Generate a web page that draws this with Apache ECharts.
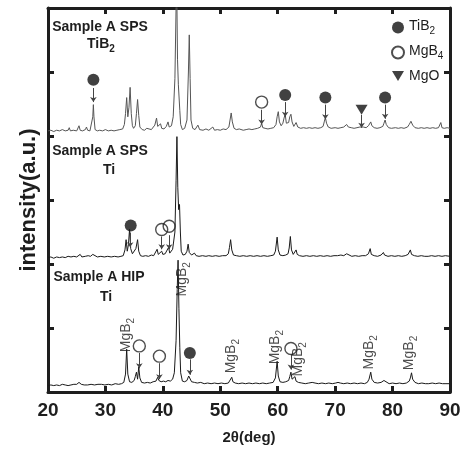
<!DOCTYPE html>
<html><head><meta charset="utf-8">
<script src="https://cdn.jsdelivr.net/npm/echarts@6/dist/echarts.min.js"></script>
<style>html,body{margin:0;padding:0;background:#fff}#c{width:464px;height:450px}</style>
</head><body><div id="c"></div>
<script>
var xTicks = [20, 30, 40, 50, 60, 70, 80, 90];

var topTiB2 = [[20,4.08],[20.5,4.09],[21,4.07],[21.5,4.09],[22,4.08],[22.5,4.10],[23,4.08],[23.5,4.09],[23.7,4.13],[23.9,4.08],[24.4,4.09],[25,4.08],[25.2,4.10],[25.4,4.16],[25.6,4.09],[26,4.08],[26.5,4.10],[26.7,4.14],[26.9,4.09],[27.3,4.08],[27.6,4.10],[27.8,4.30],[27.9,4.49],[28.0,4.30],[28.2,4.10],[28.6,4.08],[29,4.09],[29.5,4.08],[30,4.10],[30.5,4.08],[31,4.09],[31.5,4.08],[32,4.09],[32.5,4.10],[33,4.11],[33.3,4.18],[33.5,4.35],[33.7,4.60],[33.9,4.30],[34.1,4.45],[34.3,4.76],[34.5,4.35],[34.7,4.16],[34.9,4.12],[35.2,4.16],[35.4,4.35],[35.6,4.57],[35.8,4.32],[36.0,4.14],[36.4,4.10],[36.8,4.09],[37.2,4.12],[37.5,4.09],[38,4.10],[38.3,4.12],[38.6,4.17],[38.9,4.28],[39.1,4.15],[39.3,4.12],[39.6,4.19],[39.8,4.12],[40.2,4.11],[40.6,4.15],[40.9,4.22],[41.1,4.14],[41.5,4.16],[41.8,4.30],[42.1,4.9],[42.3,6.0],[42.4,6.5],[42.55,5.2],[42.7,4.8],[42.8,4.83],[42.95,4.4],[43.1,4.18],[43.4,4.10],[43.8,4.12],[44.2,4.25],[44.45,5.0],[44.6,5.58],[44.75,4.9],[44.9,4.25],[45.2,4.12],[45.6,4.10],[46.1,4.17],[46.4,4.10],[47,4.09],[47.5,4.11],[48,4.09],[48.7,4.14],[49,4.09],[49.5,4.10],[50,4.09],[50.5,4.11],[51,4.10],[51.5,4.14],[51.7,4.25],[51.9,4.36],[52.1,4.22],[52.4,4.12],[52.8,4.10],[53.3,4.11],[54,4.09],[54.5,4.10],[55,4.11],[55.5,4.10],[56,4.11],[56.5,4.12],[57,4.14],[57.2,4.20],[57.4,4.13],[57.8,4.12],[58.3,4.11],[58.8,4.12],[59.3,4.13],[59.7,4.18],[59.9,4.30],[60.1,4.38],[60.3,4.22],[60.6,4.16],[60.9,4.20],[61.1,4.28],[61.3,4.34],[61.5,4.20],[61.9,4.21],[62.1,4.30],[62.3,4.34],[62.5,4.22],[62.8,4.15],[63.2,4.21],[63.5,4.14],[64,4.12],[64.5,4.13],[65,4.12],[65.5,4.13],[66,4.12],[66.5,4.13],[67,4.12],[67.5,4.13],[67.9,4.15],[68.1,4.22],[68.3,4.29],[68.5,4.20],[68.8,4.14],[69.3,4.12],[70,4.13],[70.5,4.12],[71,4.13],[71.5,4.14],[72,4.18],[72.3,4.14],[72.8,4.13],[73.3,4.12],[73.8,4.13],[74.3,4.14],[74.6,4.17],[74.9,4.14],[75.4,4.13],[75.8,4.16],[76.0,4.19],[76.2,4.22],[76.4,4.16],[76.8,4.13],[77.3,4.12],[77.8,4.13],[78.3,4.15],[78.5,4.20],[78.7,4.25],[78.9,4.18],[79.3,4.13],[79.8,4.12],[80.5,4.13],[81,4.12],[81.5,4.13],[82,4.12],[82.6,4.14],[82.9,4.18],[83.2,4.23],[83.5,4.17],[83.9,4.13],[84.5,4.12],[85,4.13],[85.5,4.12],[86,4.13],[86.5,4.12],[87,4.13],[87.5,4.12],[88,4.13],[88.3,4.16],[88.4,4.21],[88.6,4.13],[89,4.12],[89.5,4.13],[90,4.12]];

var midTi = [[20,2.10],[20.5,2.11],[21,2.09],[21.5,2.11],[22,2.10],[22.5,2.11],[23,2.10],[23.5,2.12],[24,2.11],[24.5,2.12],[25,2.11],[25.6,2.15],[25.9,2.11],[26.5,2.12],[27,2.13],[27.4,2.12],[27.8,2.15],[28.1,2.12],[28.6,2.11],[29.2,2.12],[29.8,2.11],[30.4,2.12],[31,2.11],[31.6,2.12],[32.2,2.11],[32.7,2.12],[33.1,2.13],[33.4,2.22],[33.6,2.38],[33.8,2.20],[34.0,2.30],[34.2,2.54],[34.4,2.24],[34.7,2.16],[35.0,2.15],[35.3,2.24],[35.6,2.38],[35.8,2.20],[36.1,2.13],[36.5,2.12],[37,2.13],[37.5,2.12],[38,2.14],[38.4,2.13],[38.7,2.16],[39.0,2.23],[39.2,2.15],[39.5,2.16],[39.8,2.20],[40.0,2.15],[40.4,2.16],[40.7,2.19],[41.0,2.26],[41.2,2.17],[41.5,2.19],[41.7,2.23],[41.9,2.22],[42.1,2.5],[42.3,3.3],[42.45,3.99],[42.6,3.2],[42.75,2.85],[42.9,2.93],[43.05,2.5],[43.2,2.2],[43.5,2.14],[43.9,2.15],[44.2,2.20],[44.4,2.31],[44.6,2.18],[45.0,2.14],[45.5,2.17],[45.8,2.13],[46.3,2.12],[46.9,2.13],[47.5,2.12],[48,2.13],[48.6,2.12],[49.2,2.13],[49.8,2.12],[50.4,2.13],[51,2.13],[51.4,2.16],[51.6,2.26],[51.8,2.38],[52.0,2.22],[52.3,2.14],[52.8,2.13],[53.4,2.12],[54,2.13],[54.6,2.12],[55.2,2.13],[55.8,2.12],[56.4,2.13],[57,2.12],[57.6,2.13],[58.2,2.12],[58.8,2.13],[59.3,2.14],[59.6,2.20],[59.9,2.42],[60.1,2.22],[60.4,2.14],[60.9,2.13],[61.4,2.14],[61.8,2.16],[62.0,2.25],[62.2,2.43],[62.4,2.22],[62.7,2.15],[63.0,2.17],[63.2,2.22],[63.4,2.15],[63.8,2.13],[64.4,2.12],[65,2.13],[65.6,2.12],[66.2,2.13],[66.8,2.12],[67.4,2.13],[68,2.12],[68.6,2.13],[69.2,2.12],[69.8,2.13],[70.4,2.13],[71,2.14],[71.5,2.13],[72,2.16],[72.3,2.13],[72.9,2.12],[73.5,2.13],[74.1,2.12],[74.7,2.13],[75.3,2.13],[75.8,2.16],[76.1,2.24],[76.3,2.15],[76.8,2.13],[77.4,2.12],[78.0,2.14],[78.4,2.18],[78.6,2.14],[79.2,2.12],[79.8,2.13],[80.4,2.12],[81,2.13],[81.6,2.12],[82.2,2.13],[82.7,2.15],[83.1,2.22],[83.3,2.15],[83.8,2.13],[84.4,2.12],[85,2.13],[85.6,2.12],[86.2,2.12],[86.8,2.13],[87.4,2.12],[88,2.13],[88.6,2.12],[89.2,2.13],[90,2.12]];

var hipTi = [[20,0.10],[20.5,0.11],[21,0.10],[21.5,0.11],[22,0.10],[22.5,0.12],[23,0.11],[23.5,0.10],[24,0.11],[24.5,0.12],[25,0.12],[25.4,0.15],[25.6,0.17],[25.8,0.12],[26.3,0.11],[26.9,0.11],[27.5,0.12],[28.1,0.11],[28.7,0.12],[29.3,0.12],[29.9,0.11],[30.5,0.12],[31.1,0.11],[31.7,0.13],[32.3,0.12],[32.8,0.13],[33.2,0.15],[33.5,0.28],[33.7,0.67],[33.9,0.28],[34.2,0.16],[34.6,0.15],[35.0,0.18],[35.2,0.24],[35.4,0.31],[35.6,0.20],[35.8,0.39],[36.0,0.22],[36.3,0.15],[36.8,0.14],[37.3,0.15],[37.8,0.14],[38.3,0.16],[38.8,0.17],[39.1,0.23],[39.3,0.18],[39.7,0.16],[40.1,0.17],[40.5,0.16],[40.9,0.18],[41.3,0.17],[41.7,0.20],[42.0,0.30],[42.3,0.8],[42.5,1.6],[42.65,2.06],[42.8,1.3],[42.95,0.7],[43.1,0.3],[43.4,0.17],[43.8,0.16],[44.2,0.18],[44.5,0.25],[44.7,0.22],[45.0,0.16],[45.5,0.15],[46,0.14],[46.6,0.15],[47.2,0.13],[47.8,0.14],[48.4,0.13],[49,0.14],[49.6,0.13],[50.2,0.14],[50.8,0.13],[51.4,0.14],[51.7,0.17],[52.0,0.23],[52.2,0.16],[52.6,0.14],[53.2,0.13],[53.8,0.14],[54.4,0.13],[55,0.14],[55.6,0.13],[56.2,0.14],[56.8,0.13],[57.4,0.14],[58,0.13],[58.6,0.14],[59.2,0.15],[59.6,0.22],[59.9,0.48],[60.1,0.25],[60.4,0.16],[60.9,0.15],[61.4,0.16],[61.9,0.18],[62.1,0.24],[62.3,0.31],[62.5,0.20],[62.8,0.18],[63.0,0.24],[63.2,0.17],[63.6,0.15],[64.2,0.14],[64.8,0.13],[65.4,0.14],[66.0,0.15],[66.2,0.16],[66.5,0.14],[67.1,0.13],[67.7,0.14],[68.3,0.13],[68.9,0.14],[69.5,0.13],[70.1,0.14],[70.5,0.15],[70.9,0.14],[71.5,0.13],[72.1,0.14],[72.7,0.13],[73.3,0.14],[73.9,0.13],[74.5,0.14],[75.1,0.13],[75.6,0.15],[75.9,0.20],[76.2,0.31],[76.4,0.20],[76.8,0.15],[77.4,0.14],[78.0,0.15],[78.5,0.18],[78.8,0.15],[79.4,0.13],[80,0.14],[80.6,0.13],[81.2,0.14],[81.8,0.13],[82.4,0.14],[82.9,0.17],[83.1,0.22],[83.3,0.30],[83.5,0.20],[83.9,0.15],[84.5,0.13],[85.1,0.14],[85.7,0.13],[86.3,0.13],[86.9,0.14],[87.5,0.13],[88.1,0.14],[88.7,0.13],[89.3,0.13],[90,0.13]];

var markTiB2 = [[27.9,4.88],[61.3,4.64],[68.3,4.60],[78.7,4.60],[34.4,2.60],[44.7,0.61]];
var markMgB4 = [[57.2,4.53],[39.8,2.54],[41.1,2.59],[35.9,0.72],[39.4,0.56],[62.3,0.68]];
var markMgO = [[74.6,4.41]];
var arrows = [[27.9,4.75,4.53],[57.2,4.41,4.18],[61.3,4.53,4.30],[68.3,4.49,4.26],[74.6,4.33,4.13],[78.7,4.49,4.27],
  [34.3,2.49,2.26],[39.8,2.43,2.23],[41.1,2.45,2.23],
  [35.9,0.61,0.37],[39.4,0.45,0.20],[44.7,0.51,0.27],[62.3,0.59,0.35]];
var mgb2Labels = [[33.9,0.89],[43.6,1.76],[52.1,0.56],[59.9,0.70],[63.9,0.51],[76.2,0.62],[83.2,0.61]];
var legendNames = ['TiB2', 'MgB4', 'MgO'];
var legendRich = {'TiB2': '{a|TiB}{b|2}', 'MgB4': '{a|MgB}{b|4}', 'MgO': '{a|MgO}'};

var FONT = '"Liberation Sans", Arial, sans-serif';
var INK = '#1e1e1e';
var chart = echarts.init(document.getElementById('c'), null, {renderer: 'canvas'});

function subRich(size, weight) {
  return {
    a: {fontSize: size, fontWeight: weight, fontFamily: FONT, color: INK, lineHeight: size, verticalAlign: 'top'},
    b: {fontSize: Math.round(size * 0.7), fontWeight: weight, fontFamily: FONT, color: INK, lineHeight: size + 3, verticalAlign: 'bottom'}
  };
}

function axisCommon(pos) {
  return {
    type: 'value', position: pos,
    axisLine: {show: true, onZero: false, lineStyle: {color: INK, width: 3}},
    axisTick: {show: true, inside: true, length: 6, lineStyle: {color: INK, width: 3}},
    splitLine: {show: false}
  };
}

var xBottom = Object.assign(axisCommon('bottom'), {
  min: xTicks[0], max: xTicks[xTicks.length - 1], interval: 10,
  axisLabel: {show: true, fontSize: 19, fontWeight: 'bold', fontFamily: FONT, color: INK, margin: 9},
  name: '2θ(deg)', nameLocation: 'middle', nameGap: 38,
  nameTextStyle: {fontSize: 15, fontWeight: 'bold', fontFamily: FONT, color: INK}
});
var xTop = Object.assign(axisCommon('top'), {
  min: xTicks[0], max: xTicks[xTicks.length - 1], interval: 10, axisLabel: {show: false}
});
var yLeft = Object.assign(axisCommon('left'), {
  min: 0, max: 6, interval: 1, axisLabel: {show: false},
  name: 'intensity(a.u.)', nameLocation: 'middle', nameGap: 8, nameRotate: 90,
  nameTextStyle: {fontSize: 22, fontWeight: 'bold', fontFamily: FONT, color: INK}
});
var yRight = Object.assign(axisCommon('right'), {min: 0, max: 6, interval: 1, axisLabel: {show: false}});

function txt(x, y, text, rich) {
  var st = {text: text, x: 0, y: 0, align: 'center', verticalAlign: 'middle', fill: INK,
    font: 'bold 14px ' + FONT};
  if (rich) st.rich = rich;
  return {type: 'text', x: x, y: y, z: 10, style: st};
}

chart.setOption({
  animation: false,
  backgroundColor: '#fff',
  grid: {left: 48, right: 14, top: 8, bottom: 57},
  xAxis: [xBottom, xTop],
  yAxis: [yLeft, yRight],
  legend: {
    data: legendNames, orient: 'vertical', left: 391, top: 19, padding: 0,
    itemWidth: 12, itemHeight: 12, itemGap: 8, selectedMode: false,
    formatter: function (n) { return legendRich[n]; },
    textStyle: {rich: subRich(14, 'normal')}
  },
  graphic: [
    txt(100, 27, 'Sample A SPS'),
    txt(101, 46, '{a|TiB}{b|2}', subRich(14, 'bold')),
    txt(100, 151, 'Sample A SPS'),
    txt(109, 170, 'Ti'),
    txt(99, 277, 'Sample A HIP'),
    txt(106, 297, 'Ti')
  ],
  series: [
    {type: 'line', data: topTiB2, showSymbol: false, symbol: 'none', lineStyle: {color: '#555', width: 1}, clip: true, z: 2},
    {type: 'line', data: midTi, showSymbol: false, symbol: 'none', lineStyle: {color: '#1a1a1a', width: 1}, clip: true, z: 3},
    {type: 'line', data: hipTi, showSymbol: false, symbol: 'none', lineStyle: {color: '#1a1a1a', width: 1}, clip: true, z: 3},
    {type: 'lines', coordinateSystem: 'cartesian2d', polyline: false, z: 4,
      symbol: ['none', 'arrow'], symbolSize: 5,
      lineStyle: {color: '#444', width: 1, opacity: 1},
      data: arrows.map(function (a) { return {coords: [[a[0], a[1]], [a[0], a[2]]]}; })},
    {name: 'TiB2', type: 'scatter', data: markTiB2, symbol: 'circle', symbolSize: 12, z: 5,
      itemStyle: {color: '#111'}},
    {name: 'MgB4', type: 'scatter', data: markMgB4, symbol: 'circle', symbolSize: 12, z: 5,
      itemStyle: {color: 'rgba(255,255,255,0)', borderColor: '#222', borderWidth: 1.4}},
    {name: 'MgO', type: 'scatter', data: markMgO, symbol: 'path://M0,0 L12,0 L6,10 Z', symbolSize: [12, 10], z: 5,
      itemStyle: {color: '#111'}},
    {type: 'scatter', data: mgb2Labels, symbolSize: 0, z: 6, silent: true,
      label: {show: true, position: 'inside', rotate: 90, formatter: '{a|MgB}{b|2}', rich: subRich(14, 'normal')}}
  ]
});
</script></body></html>
